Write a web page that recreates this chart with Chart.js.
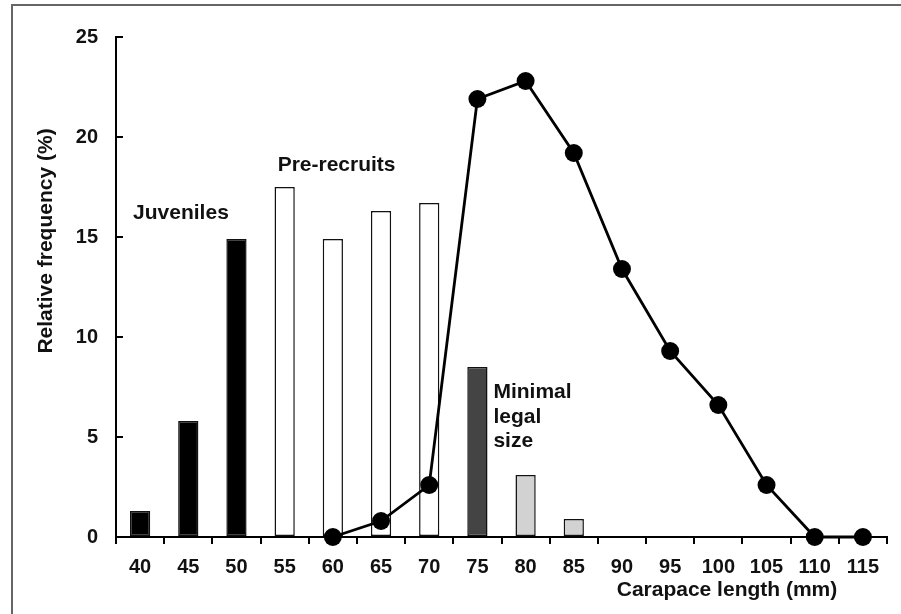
<!DOCTYPE html>
<html>
<head>
<meta charset="utf-8">
<script src="https://cdn.jsdelivr.net/npm/chart.js@4.4.1/dist/chart.umd.min.js"></script>
<style>
    html, body { margin: 0; padding: 0; background: #fff; }
    #wrap { width: 901px; height: 614px; }
</style>
</head>
<body>
<div id="wrap"><canvas id="chart" width="901" height="614"></canvas></div>
<script>
const lengthClasses = ['40', '45', '50', '55', '60', '65', '70', '75', '80', '85', '90', '95', '100', '105', '110', '115'];

// Bars, split by group so each one gets its own fill
const juveniles   = [1.3, 5.8, 14.9, null, null, null, null, null, null, null, null, null, null, null, null, null];
const preRecruits = [null, null, null, 17.5, 14.9, 16.3, 16.7, null, null, null, null, null, null, null, null, null];
const legalSize   = [null, null, null, null, null, null, null, 8.5, null, null, null, null, null, null, null, null];
const aboveLegal  = [null, null, null, null, null, null, null, null, 3.1, 0.9, null, null, null, null, null, null];

// Line with markers
const lineSeries  = [null, null, null, null, 0, 0.8, 2.6, 21.9, 22.8, 19.2, 13.4, 9.3, 6.6, 2.6, 0, 0];

const yTicks = [0, 5, 10, 15, 20, 25];

const FONT = '"Liberation Sans", Arial, sans-serif';
const INK = '#111';

const barBase = {
    type: 'bar',
    grouped: false,
    borderColor: '#111',
    borderWidth: 1.5,
    borderSkipped: false,
    barPercentage: 0.42,
    categoryPercentage: 1,
    order: 1,
};

// Frame round the figure (only top and left edges show)
const framePlugin = {
    id: 'frame',
    beforeDraw(chart) {
        const ctx = chart.ctx;
        ctx.save();
        ctx.strokeStyle = '#666';
        ctx.lineWidth = 2;
        ctx.beginPath();
        ctx.moveTo(12, 614);
        ctx.lineTo(12, 5);
        ctx.lineTo(901, 5);
        ctx.stroke();
        ctx.restore();
    }
};

// Group labels and axis titles
const notesPlugin = {
    id: 'notes',
    afterDraw(chart) {
        const ctx = chart.ctx;
        const x = chart.scales.x;
        const y = chart.scales.y;
        ctx.save();
        ctx.fillStyle = INK;
        ctx.font = 'bold 21px ' + FONT;
        ctx.textBaseline = 'middle';
        ctx.textAlign = 'left';

        ctx.fillText('Juveniles', x.getPixelForValue(0) - 7, y.getPixelForValue(16.2));
        ctx.fillText('Pre-recruits', x.getPixelForValue(3) - 7, y.getPixelForValue(18.6));
        const mx = x.getPixelForValue(7) + 16;
        ctx.fillText('Minimal', mx, y.getPixelForValue(7.25));
        ctx.fillText('legal', mx, y.getPixelForValue(6.0));
        ctx.fillText('size', mx, y.getPixelForValue(4.8));

        ctx.textAlign = 'center';
        ctx.fillText('Carapace length (mm)', 727, 590);

        ctx.translate(46, 241);
        ctx.rotate(-Math.PI / 2);
        ctx.fillText('Relative frequency (%)', 0, 0);
        ctx.restore();
    }
};

new Chart(document.getElementById('chart'), {
    data: {
        labels: lengthClasses,
        datasets: [
            {
                type: 'line',
                label: 'Frequency',
                data: lineSeries,
                borderColor: '#000',
                borderWidth: 2.8,
                backgroundColor: '#000',
                pointRadius: 9,
                pointHoverRadius: 9,
                pointBackgroundColor: '#000',
                pointBorderWidth: 0,
                tension: 0,
                clip: false,
                order: 0,
            },
            { ...barBase, label: 'Juveniles', data: juveniles, backgroundColor: '#000' },
            { ...barBase, label: 'Pre-recruits', data: preRecruits, backgroundColor: '#fff' },
            { ...barBase, label: 'Minimal legal size', data: legalSize, backgroundColor: '#444' },
            { ...barBase, label: 'Larger', data: aboveLegal, backgroundColor: '#d2d2d2' },
        ]
    },
    options: {
        responsive: false,
        animation: false,
        layout: {
            padding: { left: 0, right: 14, top: 34, bottom: 0 }
        },
        scales: {
            x: {
                type: 'category',
                offset: true,
                afterFit: (scale) => { scale.height = 77; },
                border: { display: true, color: '#000', width: 2 },
                grid: {
                    offset: true,
                    drawOnChartArea: false,
                    drawTicks: true,
                    tickLength: 7,
                    color: '#000',
                    lineWidth: 2,
                },
                ticks: {
                    color: INK,
                    padding: 11,
                    maxRotation: 0,
                    autoSkip: false,
                    font: { family: FONT, size: 20, weight: 'bold' },
                },
            },
            y: {
                min: 0,
                max: 25,
                afterFit: (scale) => { scale.width = 116; },
                afterBuildTicks: (scale) => { scale.ticks = yTicks.map(v => ({ value: v })); },
                border: { display: true, color: '#000', width: 2 },
                grid: {
                    drawOnChartArea: false,
                    drawTicks: true,
                    tickLength: -7,
                    color: '#000',
                    lineWidth: 2,
                },
                ticks: {
                    color: INK,
                    padding: 25,
                    font: { family: FONT, size: 20, weight: 'bold' },
                },
            }
        },
        plugins: {
            legend: { display: false },
            tooltip: { enabled: false },
        }
    },
    plugins: [framePlugin, notesPlugin],
});
</script>
</body>
</html>
